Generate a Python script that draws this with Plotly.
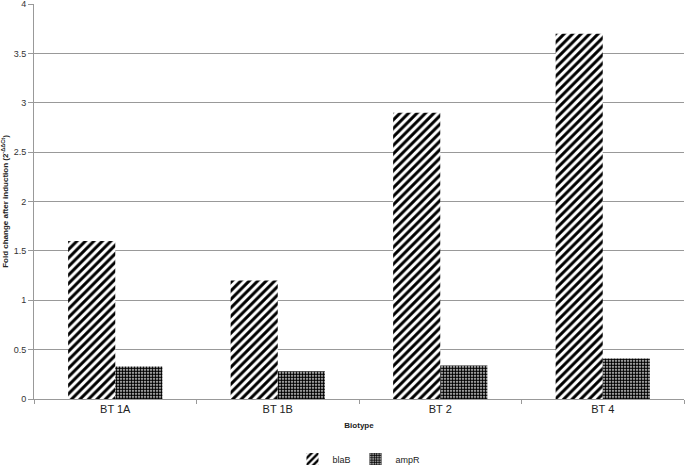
import plotly.graph_objects as go

# data
biotypes = ["BT 1A", "BT 1B", "BT 2", "BT 4"]
blaB = [1.6, 1.2, 2.9, 3.7]
ampR = [0.33, 0.28, 0.34, 0.41]

fig = go.Figure()
fig.add_trace(go.Bar(
    x=biotypes, y=blaB, name="blaB",
    marker=dict(color="white", line=dict(width=0),
                pattern=dict(shape="/", fgcolor="black", bgcolor="white",
                             size=6, solidity=0.5, fgopacity=1)),
))
fig.add_trace(go.Bar(
    x=biotypes, y=ampR, name="ampR",
    marker=dict(color="white", line=dict(width=0),
                pattern=dict(shape=".", fgcolor="black", bgcolor="white",
                             size=3, solidity=0.7, fgopacity=1)),
))

fig.update_layout(
    width=685, height=465,
    margin=dict(l=34, r=1, t=4, b=66, autoexpand=False),
    paper_bgcolor="white", plot_bgcolor="white",
    barmode="group", bargap=0.42, bargroupgap=0,
    font=dict(family="Liberation Sans, Arial, sans-serif", color="#222"),
    showlegend=True,
    legend=dict(orientation="h", x=0.5, xanchor="center", y=-0.152, yanchor="middle",
                font=dict(size=9), itemwidth=30, traceorder="normal"),
)
fig.update_xaxes(
    automargin=False,
    showline=True, linecolor="#999", linewidth=1,
    ticks="outside", ticklen=4, tickcolor="#999", tickson="boundaries",
    tickfont=dict(size=11),
    title=dict(text="<b>Biotype</b>", font=dict(size=8), standoff=8),
)
fig.update_yaxes(
    automargin=False,
    range=[0, 4.0001], dtick=0.5, tickformat="", ticklabeloverflow="allow",
    showgrid=True, gridcolor="#999", gridwidth=1,
    showline=True, linecolor="#999", linewidth=1,
    ticks="outside", ticklen=5, tickcolor="#999",
    tickfont=dict(size=9, color="#333"),
    title=dict(text="<b>Fold change after induction (2<sup>-ΔΔCt</sup>)</b>",
               font=dict(size=8), standoff=6),
    zeroline=False,
)

# the page body has a default 8px margin; drop it so the chart sits at 0,0
fig.write_html("out.html", config={"displayModeBar": False},
               post_script="document.body.style.margin='0';")
